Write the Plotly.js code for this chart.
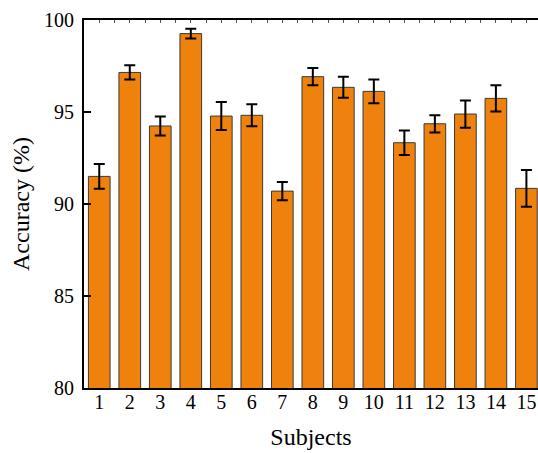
<!DOCTYPE html>
<html>
<head>
<meta charset="utf-8">
<script src="https://cdn.plot.ly/plotly-3.0.1.min.js"></script>
<style>html,body{margin:0;padding:0;background:#fff;}#chart{width:538px;height:453px;}</style>
</head>
<body>
<div id="chart"></div>
<script>
const subjects = [1,2,3,4,5,6,7,8,9,10,11,12,13,14,15];
const accuracy = [91.5,97.15,94.24,99.26,94.78,94.82,90.7,96.92,96.34,96.12,93.33,94.36,94.89,95.74,90.85];
const errors = [0.67,0.39,0.52,0.27,0.76,0.6,0.5,0.47,0.57,0.65,0.67,0.47,0.74,0.71,1.0];
const tickLabels = subjects.map(String);

const trace = {
  type: 'bar',
  x: subjects,
  y: accuracy,
  width: 0.71,
  marker: {color: '#EF820D', line: {color: '#3a3a3a', width: 1}},
  error_y: {type: 'data', array: errors, visible: true, color: '#000', thickness: 2, width: 5.5},
  hoverinfo: 'none'
};
const topTrace = {type: 'scatter', x: [1], y: [80], xaxis: 'x2', mode: 'markers', marker: {opacity: 0}, hoverinfo: 'none', showlegend: false};

const serif = 'Liberation Serif';
const layout = {
  width: 538, height: 453,
  margin: {l: 84, r: 0, t: 20, b: 65},
  paper_bgcolor: '#fff', plot_bgcolor: '#fff',
  showlegend: false,
  font: {family: serif, color: '#000', size: 20},
  xaxis: {
    range: [0.5, 15.38], tickvals: subjects, ticktext: tickLabels,
    showline: true, linecolor: '#000', linewidth: 2, ticks: '', showgrid: false, zeroline: false,
    tickfont: {family: serif, size: 20, color: '#000'},
    ticklabelstandoff: -5,
    title: {text: 'Subjects', font: {family: serif, size: 24, color: '#000'}, standoff: 16}
  },
  xaxis2: {
    overlaying: 'x', side: 'top', range: [0.5, 15.38], dtick: 0.5, tick0: 0.5,
    showline: true, linecolor: '#000', linewidth: 2, ticks: 'inside', ticklen: 3, tickwidth: 1, tickcolor: '#555',
    showticklabels: false, showgrid: false, zeroline: false
  },
  yaxis: {
    range: [80, 100], dtick: 5, tick0: 80,
    showline: true, linecolor: '#000', linewidth: 2, ticks: 'inside', ticklen: 7, tickwidth: 2, tickcolor: '#000',
    showgrid: false, zeroline: false,
    tickfont: {family: serif, size: 20, color: '#000'},
    ticklabelstandoff: 4,
    title: {text: 'Accuracy (%)', font: {family: serif, size: 24, color: '#000'}, standoff: 8}
  }
};
Plotly.newPlot('chart', [trace, topTrace], layout, {displayModeBar: false, staticPlot: true});
</script>
</body>
</html>
